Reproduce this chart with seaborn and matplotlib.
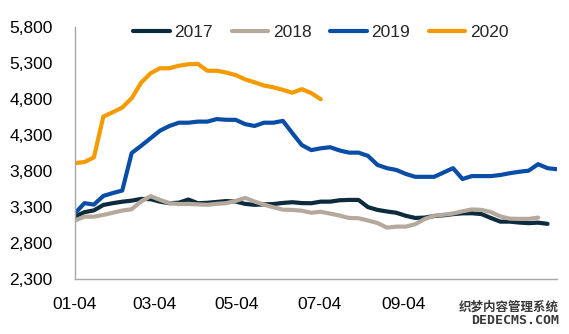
import numpy as np
import pandas as pd
import matplotlib
matplotlib.use("Agg")
import matplotlib.pyplot as plt
import seaborn as sns

# Weekly prices, one series per year (week 0 = Jan 4)
years = ["2017", "2018", "2019", "2020"]

price_2017 = [3170, 3230, 3255, 3330, 3355, 3375, 3390, 3414, 3410, 3376,
              3354, 3362, 3405, 3354, 3360, 3372, 3384, 3378, 3345, 3332,
              3338, 3343, 3358, 3368, 3356, 3354, 3376, 3376, 3395, 3400,
              3400, 3300, 3262, 3240, 3222, 3180, 3150, 3155, 3176, 3187,
              3203, 3214, 3215, 3204, 3150, 3099, 3099, 3086, 3078, 3085,
              3068]

price_2018 = [3115, 3168, 3168, 3192, 3222, 3252, 3271, 3380, 3452, 3400,
              3355, 3342, 3345, 3338, 3332, 3346, 3355, 3386, 3428, 3378,
              3334, 3298, 3265, 3261, 3250, 3222, 3236, 3210, 3183, 3150,
              3146, 3115, 3080, 3016, 3030, 3030, 3063, 3135, 3180, 3195,
              3212, 3242, 3268, 3262, 3232, 3172, 3140, 3137, 3137, 3155]

price_2019 = [3215, 3355, 3335, 3455, 3495, 3530, 4050, 4150, 4255, 4360,
              4425, 4470, 4470, 4485, 4485, 4520, 4510, 4510, 4450, 4425,
              4470, 4470, 4495, 4325, 4160, 4090, 4115, 4130, 4085, 4055,
              4055, 4010, 3885, 3840, 3815, 3760, 3720, 3720, 3720, 3780,
              3840, 3690, 3730, 3730, 3730, 3745, 3770, 3790, 3805, 3895,
              3840, 3825]

price_2020 = [3910, 3925, 3990, 4555, 4615, 4680, 4810, 5025, 5155, 5225,
              5225, 5260, 5280, 5285, 5190, 5190, 5165, 5130, 5070, 5030,
              4985, 4960, 4925, 4885, 4935, 4880, 4795]

tick_labels = ["01-04", "03-04", "05-04", "07-04", "09-04", ""]
tick_days = [0, 59, 120, 181, 243, 304]

colors = {"2017": "#0C2B3D", "2018": "#B5A99D", "2019": "#0A4DA6", "2020": "#F59A00"}

series = {"2017": price_2017, "2018": price_2018, "2019": price_2019, "2020": price_2020}
frames = []
for yr in years:
    vals = series[yr]
    frames.append(pd.DataFrame({"week": np.arange(len(vals)), "price": vals, "year": yr}))
df = pd.concat(frames, ignore_index=True)

sns.set_style("white")
plt.rcParams["font.family"] = ["Liberation Sans", "DejaVu Sans"]

fig = plt.figure(figsize=(5.69, 3.34), dpi=100)
ax = fig.add_axes([0.1318, 0.1638, 0.9789 - 0.1318, 0.920 - 0.1638])

sns.lineplot(data=df, x="week", y="price", hue="year", hue_order=years,
             palette=colors, linewidth=3.0, ax=ax, legend=False)

ax.set_xlim(0, 51)
ax.set_ylim(2300, 5800)
ax.set_yticks(np.arange(2300, 5801, 500))
ax.set_yticklabels([f"{v:,}" for v in range(2300, 5801, 500)])
ax.set_xticks([d / 7 for d in tick_days])
ax.set_xticklabels(tick_labels)
ax.set_xlabel("")
ax.set_ylabel("")

for side in ["top", "right"]:
    ax.spines[side].set_visible(False)
for side in ["left", "bottom"]:
    ax.spines[side].set_color("#A6A6A6")
    ax.spines[side].set_linewidth(1.0)

ax.tick_params(axis="both", which="major", direction="out", length=5,
               width=1.0, color="#A6A6A6", labelsize=12.5, labelcolor="black")
ax.tick_params(axis="y", pad=11)
ax.tick_params(axis="x", pad=8)

handles = [plt.Line2D([0], [0], color=colors[y], lw=3.0) for y in years]
ax.legend(handles, years, loc="center", bbox_to_anchor=(0.51, 0.978), ncol=4,
          frameon=False, fontsize=12.5, handlelength=2.1, handletextpad=0.25,
          columnspacing=1.1, borderaxespad=0)

# Site watermark in the lower-right corner
fig.text(0.982, 0.080, "织梦内容管理系统", ha="right", va="center",
         fontsize=9, fontweight="bold", color="#3A3A3A",
         family=["Noto Sans CJK SC", "DejaVu Sans"],
         bbox=dict(facecolor="white", edgecolor="none", pad=0.5))
fig.text(0.982, 0.040, "DEDECMS.COM", ha="right", va="center",
         fontsize=9.5, fontweight="bold", color="#3A3A3A",
         family=["DejaVu Sans Mono"])

fig.savefig("out.png", dpi=100)
